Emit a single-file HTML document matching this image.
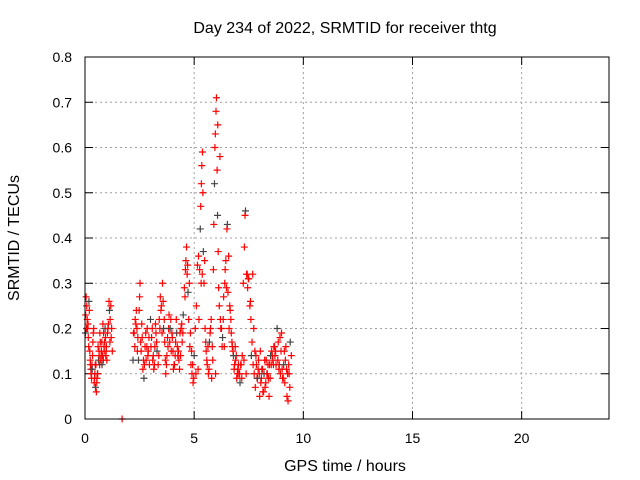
<!DOCTYPE html>
<html><head><meta charset="utf-8"><style>
html,body{margin:0;padding:0;background:#fff;}
svg{display:block;font-family:"Liberation Sans",Arial,sans-serif;}
</style></head><body>
<svg id="chart" width="640" height="480" viewBox="0 0 640 480">
<rect width="640" height="480" fill="#fff"/>
<g id="grid"></g>
<g id="axes"></g>
<g id="marks"></g>
<rect x="85" y="57" width="524" height="362" fill="none" stroke="#000" stroke-width="1"/>
<text x="345" y="33" text-anchor="middle" font-size="16">Day 234 of 2022, SRMTID for receiver thtg</text>
<text x="345" y="471" text-anchor="middle" font-size="16">GPS time / hours</text>
<text x="0" y="0" transform="translate(19,238) rotate(-90)" text-anchor="middle" font-size="16">SRMTID / TECUs</text>
</svg>
<script>
const xTicks=[0,5,10,15,20];
const yTicks=[0,0.1,0.2,0.3,0.4,0.5,0.6,0.7,0.8];
const yTickLabels=["0","0.1","0.2","0.3","0.4","0.5","0.6","0.7","0.8"];
const times=[0.02,0.05,0.08,0.1,0.12,0.15,0.18,0.2,0.22,0.25,0.28,0.3,0.33,0.35,0.38,0.4,0.42,0.45,0.48,0.5,0.52,0.55,0.58,0.6,0.62,0.65,0.68,0.7,0.72,0.75,0.78,0.8,0.82,0.85,0.88,0.9,0.92,0.95,0.98,1.0,1.05,1.1,1.12,1.15,1.18,1.2,1.25,
1.7,
2.2,2.25,2.3,2.35,2.38,2.4,2.45,2.5,2.52,2.55,2.6,2.65,2.7,2.75,2.8,2.85,2.9,2.95,3.0,3.05,3.1,3.15,3.2,3.25,3.3,3.35,3.4,3.45,3.5,3.55,3.6,3.65,3.7,3.75,3.8,3.85,3.9,3.95,4.0,4.05,4.1,4.15,4.2,4.25,4.3,4.35,4.4,4.45,4.5,4.55,4.6,4.62,4.65,4.7,4.72,4.75,4.8,4.85,4.9,4.95,5.0,5.05,5.1,5.15,5.2,5.25,5.28,5.3,5.33,5.35,5.38,5.4,5.42,5.45,5.5,5.55,5.6,5.65,5.7,5.75,5.8,5.85,5.88,5.9,5.93,5.95,5.97,6.0,6.02,6.05,6.07,6.1,6.12,6.15,6.2,6.25,6.3,6.35,6.4,6.42,6.45,6.5,6.52,6.55,6.6,6.65,6.7,6.75,6.8,6.85,6.9,6.95,7.0,7.05,7.1,7.15,7.2,7.25,7.3,7.33,7.35,7.4,7.45,7.5,7.55,7.6,7.62,7.65,7.7,7.75,7.8,7.85,7.9,7.95,8.0,8.05,8.1,8.15,8.2,8.25,8.3,8.35,8.4,8.45,8.5,8.55,8.6,8.65,8.7,8.75,8.8,8.85,8.9,8.95,9.0,9.05,9.1,9.15,9.2,9.25,9.3,9.35,9.4,9.45];
const tecu=[0.19,0.27,0.25,0.22,0.2,0.18,0.26,0.24,0.15,0.12,0.1,0.09,0.11,0.14,0.19,0.2,0.08,0.1,0.07,0.12,0.06,0.09,0.1,0.16,0.13,0.14,0.19,0.17,0.13,0.15,0.12,0.14,0.21,0.19,0.15,0.17,0.2,0.14,0.16,0.13,0.2,0.26,0.24,0.22,0.25,0.18,0.15,
0.0,
0.13,0.19,0.22,0.24,0.2,0.15,0.13,0.27,0.3,0.17,0.21,0.11,0.09,0.16,0.13,0.2,0.15,0.12,0.22,0.18,0.13,0.11,0.16,0.19,0.15,0.12,0.22,0.27,0.25,0.3,0.2,0.17,0.1,0.14,0.16,0.23,0.2,0.15,0.18,0.11,0.12,0.17,0.19,0.14,0.13,0.19,0.2,0.17,0.23,0.29,0.33,0.35,0.38,0.34,0.28,0.22,0.16,0.12,0.1,0.08,0.14,0.2,0.25,0.34,0.36,0.33,0.42,0.47,0.52,0.56,0.59,0.5,0.37,0.3,0.2,0.15,0.12,0.1,0.17,0.2,0.09,0.13,0.33,0.43,0.52,0.6,0.63,0.68,0.71,0.55,0.45,0.37,0.29,0.25,0.22,0.2,0.18,0.27,0.3,0.33,0.35,0.42,0.43,0.28,0.2,0.24,0.19,0.16,0.14,0.12,0.13,0.09,0.11,0.1,0.08,0.12,0.14,0.3,0.38,0.45,0.46,0.32,0.29,0.31,0.25,0.22,0.14,0.17,0.12,0.1,0.07,0.12,0.09,0.13,0.05,0.08,0.11,0.06,0.1,0.07,0.13,0.1,0.09,0.12,0.14,0.15,0.13,0.16,0.14,0.12,0.2,0.17,0.12,0.1,0.19,0.09,0.12,0.08,0.16,0.05,0.04,0.1,0.17,0.14];
const times2=[0.03,0.07,0.14,0.17,0.24,0.27,0.32,0.36,0.44,0.47,0.54,0.57,0.64,0.67,0.74,0.77,0.84,0.87,0.94,0.97,1.03,1.07,1.14,1.22,
2.22,2.28,2.33,2.42,2.48,2.57,2.62,2.68,2.72,2.78,2.83,2.88,2.93,3.02,3.08,3.13,3.18,3.23,3.28,3.38,3.43,3.48,3.53,3.58,3.63,3.68,3.73,3.78,3.83,3.88,3.93,3.98,4.03,4.08,4.13,4.18,4.23,4.28,4.33,4.38,4.43,4.48,4.58,4.68,4.78,4.83,4.88,4.93,4.98,5.08,5.18,5.22,5.32,5.37,5.48,5.53,5.58,5.63,5.68,5.73,5.78,5.83,5.98,6.08,6.18,6.22,6.28,6.33,6.38,6.48,6.58,6.63,6.68,6.73,6.78,6.83,6.88,6.93,6.98,7.03,7.08,7.13,7.18,7.28,7.38,7.43,7.48,7.58,7.68,7.73,7.78,7.83,7.88,7.93,7.98,8.03,8.08,8.13,8.18,8.23,8.28,8.33,8.38,8.43,8.48,8.53,8.58,8.63,8.68,8.73,8.83,8.88,8.93,8.98,9.03,9.08,9.13,9.18,9.23,9.28,9.33,9.38];
const tecu2=[0.23,0.2,0.21,0.16,0.13,0.11,0.12,0.17,0.09,0.12,0.08,0.1,0.15,0.12,0.14,0.17,0.13,0.16,0.18,0.15,0.19,0.21,0.17,0.2,
0.19,0.16,0.21,0.18,0.24,0.15,0.18,0.13,0.12,0.19,0.16,0.14,0.18,0.16,0.2,0.14,0.12,0.21,0.17,0.14,0.2,0.24,0.19,0.26,0.22,0.13,0.12,0.18,0.2,0.17,0.22,0.19,0.15,0.12,0.14,0.22,0.16,0.15,0.11,0.14,0.21,0.19,0.27,0.32,0.3,0.19,0.15,0.12,0.09,0.1,0.11,0.22,0.3,0.32,0.35,0.17,0.13,0.16,0.11,0.19,0.22,0.16,0.1,0.65,0.58,0.2,0.16,0.22,0.16,0.29,0.36,0.25,0.22,0.17,0.15,0.11,0.16,0.14,0.1,0.12,0.1,0.12,0.09,0.13,0.1,0.32,0.31,0.26,0.32,0.2,0.15,0.14,0.09,0.11,0.1,0.15,0.09,0.11,0.06,0.13,0.08,0.1,0.12,0.05,0.09,0.12,0.14,0.12,0.16,0.15,0.13,0.11,0.18,0.15,0.11,0.09,0.15,0.13,0.11,0.1,0.12,0.07,0.09,0.12];
const NS="http://www.w3.org/2000/svg";
const X0=85,X1=609,Y0=419,Y1=57;
const xMax=24,yMax=0.8;
function xs(v){return X0+(X1-X0)*v/xMax;}
function ys(v){return Y0-(Y0-Y1)*v/yMax;}
function mk(tag,attrs,parent){const e=document.createElementNS(NS,tag);for(const k in attrs)e.setAttribute(k,attrs[k]);parent.appendChild(e);return e;}
const grid=document.getElementById('grid'),axes=document.getElementById('axes'),marks=document.getElementById('marks');
yTicks.forEach((t,i)=>{
  const y=ys(t);
  if(t>0&&t<yMax){const g=mk('line',{x1:X0,x2:X1,y1:y,y2:y,stroke:'#a0a0a0','stroke-dasharray':'2,3'},grid);
  
  }
  const tk=mk('path',{d:`M${X0},${y}h8M${X1},${y}h-8`,stroke:'#000'},axes);
  
  
  const tx=mk('text',{x:X0-13,y:y+5,'text-anchor':'end','font-size':'14'},axes);
  tx.textContent=yTickLabels[i];
  
  
});
xTicks.forEach(t=>{
  const x=xs(t);
  if(t>0){const g=mk('line',{x1:x,x2:x,y1:Y0,y2:Y1,stroke:'#a0a0a0','stroke-dasharray':'2,3'},grid);
  
  }
  const tk=mk('path',{d:`M${x},${Y0}v-8M${x},${Y1}v8`,stroke:'#000'},axes);
  
  
  const tx=mk('text',{x:x,y:Y0+24,'text-anchor':'middle','font-size':'14'},axes);
  tx.textContent=String(t);
  
  
});
times2.forEach((t,i)=>{
  const x=xs(t),y=ys(tecu2[i]);
  const p=mk('path',{d:`M${x-3.5},${y}h7M${x},${y-3.5}v7`,stroke:'#ff0000','stroke-width':'1.2'},marks);
  
  
});
times.forEach((t,i)=>{
  const x=xs(t),y=ys(tecu[i]);
  if(i%6===0){
  const gp=mk('path',{d:`M${x-3.5},${y}h7M${x},${y-3.5}v7`,stroke:'#444','stroke-width':'1.2'},marks);
  
  
  return;}
  const p=mk('path',{d:`M${x-3.5},${y}h7M${x},${y-3.5}v7`,stroke:'#ff0000','stroke-width':'1.2'},marks);
  
  
});
</script>
</body></html>
